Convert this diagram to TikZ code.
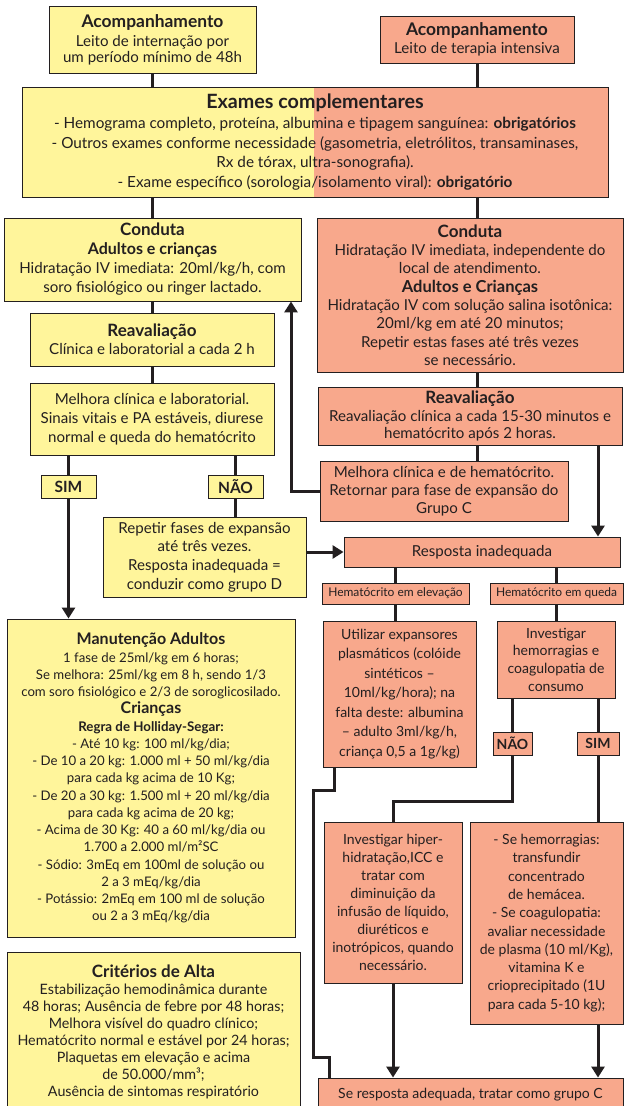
\documentclass[tikz,border=0pt]{standalone}
\usepackage{fontspec}
\setmainfont{Lato}
\usetikzlibrary{arrows.meta,calc}
\definecolor{ylw}{HTML}{FFF59B}
\definecolor{slm}{HTML}{F8A88C}
\definecolor{ink}{HTML}{231F20}
\newcommand\fsz[2]{\fontsize{#1}{#2}\selectfont}
\begin{document}
\begin{tikzpicture}[x=1pt,y=-1pt,
  box/.style={draw=ink, line width=0.9pt, inner sep=0pt, align=center, text=ink},
  ybox/.style={box, fill=ylw},
  sbox/.style={box, fill=slm},
  conn/.style={draw=ink, line width=3pt},
  arr/.style={conn, -{Triangle[length=11pt,width=13pt]}},
  body/.style={font=\fsz{15.1}{#1}},
  small/.style={font=\fsz{14}{#1}},
  body/.default=19, small/.default=18]
\useasboundingbox (0,0) rectangle (624,1106);
\clip (0,0) rectangle (624,1106);
% column / knee coordinates
\coordinate (colUp) at (291,0);
\coordinate (kneeA) at (0,801);
\coordinate (k1) at (334,790);
\coordinate (k2) at (313,790);
\coordinate (k3) at (313,1057);
\coordinate (k4) at (329,1057);

% split background of Exames
\fill[ylw] (22,87) rectangle (314,197);
\fill[slm] (314,87) rectangle (608,197);

\node[ybox, minimum width=207pt, minimum height=67pt, body=16] (a1) at (152.5,39.5)
  {{\fsz{17.4}{17}\bfseries Acompanhamento}\\[3pt]Leito de internação por\\um período mínimo de 48h};
\node[sbox, minimum width=194pt, minimum height=47pt, body=18] (a2) at (477,39.5)
  {{\fsz{17.4}{17}\bfseries Acompanhamento}\\Leito de terapia intensiva};
\node[box, minimum width=586pt, minimum height=110pt, font=\fsz{15.3}{19.5}] (ex) at (315,142)
  {{\fsz{19.7}{22}\bfseries Exames complementares}\\[1pt]
   - Hemograma completo, proteína, albumina e tipagem sanguínea: \textbf{obrigatórios}\\
   - Outros exames conforme necessidade (gasometria, eletrólitos, transaminases,\\
   Rx de tórax, ultra-sonografia).\\
   - Exame específico (sorologia/isolamento viral): \textbf{obrigatório}};
\node[ybox, minimum width=297pt, minimum height=83pt, body=19] (cL) at (152.5,259.5)
  {{\fsz{17}{19}\bfseries Conduta}\\{\fsz{16}{19}\bfseries Adultos e crianças}\\Hidratação IV imediata: 20ml/kg/h, com\\soro fisiológico ou ringer lactado.};
\node[sbox, minimum width=306pt, minimum height=154pt, body=18.3] (cR) at (470,295)
  {{\fsz{17}{19}\bfseries Conduta}\\Hidratação IV imediata, independente do\\local de atendimento.\\{\fsz{16.5}{19}\bfseries Adultos e Crianças}\\Hidratação IV com solução salina isotônica:\\20ml/kg em até 20 minutos;\\Repetir estas fases até três vezes\\se necessário.};
\node[ybox, minimum width=244pt, minimum height=53pt, body=18] (rL) at (152,339.5)
  {{\fsz{17}{18}\bfseries Reavaliação}\\Clínica e laboratorial a cada 2 h};
\node[ybox, minimum width=244pt, minimum height=72pt, body=19] (mL) at (152,419)
  {Melhora clínica e laboratorial.\\Sinais vitais e PA estáveis, diurese\\normal e queda do hematócrito};
\node[sbox, minimum width=304pt, minimum height=58pt, body=17.5] (rR) at (470,416)
  {{\fsz{17}{18}\bfseries Reavaliação}\\Reavaliação clínica a cada 15-30 minutos e\\hematócrito após 2 horas.};
\node[ybox, minimum width=55pt, minimum height=23pt, font=\fsz{15.5}{18}\bfseries] (simL) at (68.5,486.5) {SIM};
\node[ybox, minimum width=55pt, minimum height=23pt, font=\fsz{15.5}{18}\bfseries] (naoL) at (235.5,486.5) {NÃO};
\node[sbox, minimum width=248pt, minimum height=60pt, body=18] (mR) at (444,491)
  {Melhora clínica e de hematócrito.\\Retornar para fase de expansão do\\Grupo C};
\node[ybox, minimum width=203pt, minimum height=80pt, body=18.7] (rep) at (204.5,557)
  {Repetir fases de expansão\\até três vezes.\\Resposta inadequada =\\conduzir como grupo D};
\node[sbox, minimum width=276pt, minimum height=30pt, body=18] (resp) at (482,552) {Resposta inadequada};
\node[sbox, minimum width=147pt, minimum height=21pt, font=\fsz{12}{14}] (hE) at (395.5,593.5) {Hematócrito em elevação};
\node[sbox, minimum width=133pt, minimum height=21pt, font=\fsz{12}{14}] (hQ) at (556.5,593.5) {Hematócrito em queda};
\node[sbox, minimum width=153pt, minimum height=146pt, small=19.5] (ut) at (399.5,694)
  {Utilizar expansores\\plasmáticos (colóide\\sintéticos –\\10ml/kg/hora); na\\falta deste: albumina\\– adulto 3ml/kg/h,\\criança 0,5 a 1g/kg)};
\node[sbox, minimum width=118pt, minimum height=77pt, small=17.7] (inv) at (556,659.5)
  {Investigar\\hemorragias e\\coagulopatia de\\consumo};
\node[sbox, minimum width=39pt, minimum height=23pt, font=\fsz{14}{18}\bfseries] (naoR) at (512.5,743.5) {NÃO};
\node[sbox, minimum width=42pt, minimum height=23pt, font=\fsz{14}{18}\bfseries] (simR) at (598,743.5) {SIM};
\node[sbox, minimum width=138pt, minimum height=161pt, small=18.1] (ih) at (393,902.5)
  {Investigar hiper-\\hidratação,ICC e\\tratar com\\diminuição da\\infusão de líquido,\\diuréticos e\\inotrópicos, quando\\necessário.};
\node[sbox, minimum width=153pt, minimum height=202pt, small=18.3] (sh) at (546.5,923)
  {- Se hemorragias:\\transfundir\\concentrado\\de hemácea.\\- Se coagulopatia:\\avaliar necessidade\\de plasma (10 ml/Kg),\\vitamina K e\\crioprecipitado (1U\\para cada 5-10 kg);};
\node[sbox, minimum width=305pt, minimum height=34pt, small=18] (bot) at (470.5,1095)
  {Se resposta adequada, tratar como grupo C};
\node[ybox, minimum width=288pt, minimum height=318pt, font=\fsz{13.2}{17.25}] (man) at (151,778)
  {{\fsz{16}{17}\bfseries Manutenção Adultos}\\1 fase de 25ml/kg em 6 horas;\\Se melhora: 25ml/kg em 8 h, sendo 1/3\\com soro fisiológico e 2/3 de soroglicosilado.\\{\fsz{16}{17}\bfseries Crianças}\\{\fsz{13.3}{17}\bfseries Regra de Holliday-Segar:}\\- Até 10 kg: 100 ml/kg/dia;\\- De 10 a 20 kg: 1.000 ml + 50 ml/kg/dia\\para cada kg acima de 10 Kg;\\- De 20 a 30 kg: 1.500 ml + 20 ml/kg/dia\\para cada kg acima de 20 kg;\\- Acima de 30 Kg: 40 a 60 ml/kg/dia ou\\1.700 a 2.000 ml/m²SC\\- Sódio: 3mEq em 100ml de solução ou\\2 a 3 mEq/kg/dia\\- Potássio: 2mEq em 100 ml de solução\\ou 2 a 3 mEq/kg/dia};
\node[ybox, minimum width=293pt, minimum height=159pt, font=\fsz{14.3}{17}] (cr) at (153.5,1031.5)
  {{\fsz{17}{17}\bfseries Critérios de Alta}\\Estabilização hemodinâmica durante\\48 horas; Ausência de febre por 48 horas;\\Melhora visível do quadro clínico;\\Hematócrito normal e estável por 24 horas;\\Plaquetas em elevação e acima\\de 50.000/mm³;\\Ausência de sintomas respiratório};

% connectors
\draw[conn] (a1.south) -- (a1.south |- ex.north);
\draw[conn] (a2.south) -- (a2.south |- ex.north);
\draw[conn] (ex.south -| a1.south) -- (cL.north -| a1.south);
\draw[conn] (ex.south -| a2.south) -- (cR.north -| a2.south);
\draw[conn] (cL.south -| a1.south) -- (rL.north -| a1.south);
\draw[conn] (rL.south -| a1.south) -- (mL.north -| a1.south);
\draw[conn] (simL.north) -- (simL.north |- mL.south);
\draw[conn] (naoL.north) -- (naoL.north |- mL.south);
\draw[arr] (simL.south) -- (simL.south |- man.north);
\draw[conn] (naoL.south) -- (naoL.south |- rep.north);
\draw[arr] (rep.east |- resp.west) -- (resp.west);
\draw[conn] (cR.south -| a2.south) -- (rR.north -| a2.south);
\draw[conn] (rR.south -| a2.south) -- (mR.north -| a2.south);
\draw[arr] (rR.south -| simR.north) -- (resp.north -| simR.north);
\draw[arr] (mR.west) -| (colUp |- cL.south);
\draw[conn] (hE.north) -- (hE.north |- resp.south);
\draw[conn] (hQ.north) -- (hQ.north |- resp.south);
\draw[conn] (hE.south) -- (hE.south |- ut.north);
\draw[conn] (inv.north) -- (inv.north |- hQ.south);
\draw[conn] (naoR.north) -- (naoR.north |- inv.south);
\draw[conn] (simR.north) -- (simR.north |- inv.south);
\draw[conn] (naoR.south) -- (naoR.south |- kneeA) -| (ih.north);
\draw[conn] (simR.south) -- (simR.south |- sh.north);
\draw[arr] (ih.south) -- (ih.south |- bot.north);
\draw[arr] (sh.south -| simR.south) -- (bot.north -| simR.south);
\draw[conn] (ut.south -| k1) -- (k1) -- (k2) -- (k3) -- (k4) -- (k4 |- bot.north);
\end{tikzpicture}
\end{document}
